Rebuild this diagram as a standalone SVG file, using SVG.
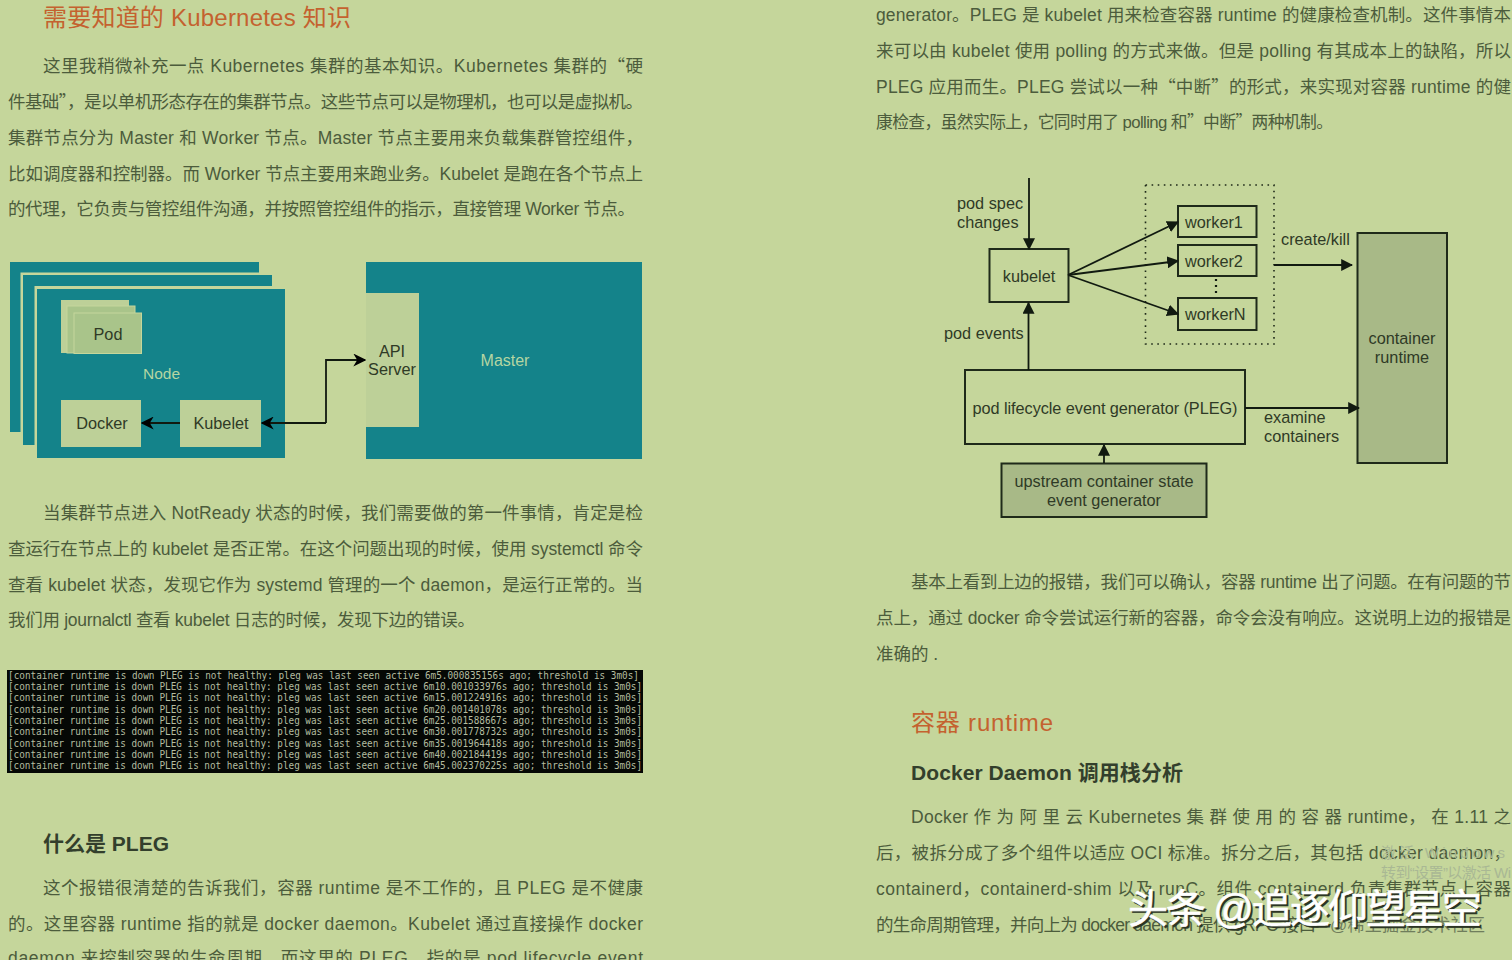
<svg xmlns="http://www.w3.org/2000/svg" width="1512" height="960" viewBox="0 0 1512 960">
<style>
text{font-family:"Liberation Sans","Noto Sans CJK SC",sans-serif}
.q{font-family:"Noto Sans CJK SC",sans-serif}
.b{font-size:17.500px;fill:#4c5c3c}
.h{font-size:24px;fill:#c4622f}
.s{font-size:21px;fill:#333f2c;font-weight:700}
.t{font-family:"DejaVu Sans Mono",monospace;font-size:10px;fill:#b4bca0}
.d{font-size:16.300px;fill:#2f3a26;text-anchor:middle}
.dl{font-size:16.300px;fill:#2f3a26}
.teal{fill:#14838a}
.lt{fill:#bdd098}
.box{fill:#c5d69b;stroke:#1f2a1a;stroke-width:2}
.dk{fill:#a8b987;stroke:#1f2a1a;stroke-width:2}
.cn{fill:none;stroke:#111a10;stroke-width:1.800}
.wm{font-size:40px;fill:#fff;stroke:#fff;stroke-width:.6}
.wb{font-size:40px;fill:#2c3524;stroke:#2c3524;stroke-width:.4}
.f{fill:#a9b894;font-size:15px}
</style>
<defs>
<marker id="a" viewBox="0 0 10 10" refX="9" refY="5" markerUnits="userSpaceOnUse" markerWidth="12" markerHeight="12" orient="auto"><path d="M0 0L10 5L0 10z" fill="#111a10"/></marker>
<marker id="k" viewBox="0 0 10 10" refX="9" refY="5" markerUnits="userSpaceOnUse" markerWidth="13" markerHeight="13" orient="auto"><path d="M0 0L10 5L0 10L3 5z" fill="#000"/></marker>
</defs>
<rect width="1512" height="960" fill="#c5d69b"/>

<text class="h" x="43" y="26" textLength="308">需要知道的 Kubernetes 知识</text>
<text class="b" x="43" y="72.300" textLength="600">这里我稍微补充一点 Kubernetes 集群的基本知识。Kubernetes 集群的<tspan class="q">“</tspan>硬</text>
<text class="b" x="8" y="108.300" textLength="635">件基础<tspan class="q">”</tspan>，是以单机形态存在的集群节点。这些节点可以是物理机，也可以是虚拟机。</text>
<text class="b" x="8" y="144.300" textLength="635">集群节点分为 Master 和 Worker 节点。Master 节点主要用来负载集群管控组件，</text>
<text class="b" x="8" y="180.300" textLength="635">比如调度器和控制器。而 Worker 节点主要用来跑业务。Kubelet 是跑在各个节点上</text>
<text class="b" x="8" y="215.300" textLength="627">的代理，它负责与管控组件沟通，并按照管控组件的指示，直接管理 Worker 节点。</text>
<text class="b" x="43" y="519.300" textLength="600">当集群节点进入 NotReady 状态的时候，我们需要做的第一件事情，肯定是检</text>
<text class="b" x="8" y="555.300" textLength="635">查运行在节点上的 kubelet 是否正常。在这个问题出现的时候，使用 systemctl 命令</text>
<text class="b" x="8" y="591.300" textLength="635">查看 kubelet 状态，发现它作为 systemd 管理的一个 daemon，是运行正常的。当</text>
<text class="b" x="8" y="626.300" textLength="467">我们用 journalctl 查看 kubelet 日志的时候，发现下边的错误。</text>
<text class="b" x="43" y="894.300" textLength="600">这个报错很清楚的告诉我们，容器 runtime 是不工作的，且 PLEG 是不健康</text>
<text class="b" x="8" y="930.300" textLength="635">的。这里容器 runtime 指的就是 docker daemon。Kubelet 通过直接操作 docker</text>
<text class="b" x="8" y="963.500" textLength="635">daemon 来控制容器的生命周期。而这里的 PLEG，指的是 pod lifecycle event</text>

<g id="node-stack">
<rect class="teal" x="10" y="262" width="249" height="170"/>
<rect x="20.500" y="272.500" width="255" height="176" fill="#c5d69b"/>
<rect class="teal" x="23" y="275" width="249" height="170"/>
<rect x="34.500" y="286" width="255" height="176" fill="#c5d69b"/>
<rect class="teal" x="37" y="289" width="248" height="169"/>
<text x="161.500" y="379" text-anchor="middle" style="font-size:15.500px;fill:#b5d6a2">Node</text>
</g>
<g id="pod">
<rect x="61" y="300" width="68" height="53" fill="#bdd098"/>
<rect x="67" y="306" width="68" height="47" fill="#a9c48a" stroke="#c5d69b" stroke-width="1"/>
<rect x="74" y="313" width="67.500" height="40.500" fill="#a9c48a" stroke="#c5d69b" stroke-width="1"/>
<text class="d" x="108" y="340">Pod</text>
</g>
<g id="docker"><rect class="lt" x="61" y="400" width="80" height="47"/><text class="d" x="102" y="429">Docker</text></g>
<g id="kubelet"><rect class="lt" x="180" y="400" width="81" height="47"/><text class="d" x="221" y="429">Kubelet</text></g>
<g id="master">
<rect class="teal" x="366" y="262" width="276" height="197"/>
<text x="505" y="366" text-anchor="middle" style="font-size:16px;fill:#b5d6a2">Master</text>
</g>
<g id="api-server">
<rect class="lt" x="366" y="293" width="53" height="134"/>
<text class="d" x="392" y="357">API</text><text class="d" x="392" y="375">Server</text>
</g>

<g id="terminal">
<rect x="7" y="670" width="636" height="103" fill="#050805"/>
<text class="t" x="8" y="679" textLength="631" lengthAdjust="spacingAndGlyphs">[container runtime is down PLEG is not healthy: pleg was last seen active 6m5.000835156s ago; threshold is 3m0s]</text>
<text class="t" x="8" y="690" textLength="634" lengthAdjust="spacingAndGlyphs">[container runtime is down PLEG is not healthy: pleg was last seen active 6m10.001033976s ago; threshold is 3m0s]</text>
<text class="t" x="8" y="701" textLength="634" lengthAdjust="spacingAndGlyphs">[container runtime is down PLEG is not healthy: pleg was last seen active 6m15.001224916s ago; threshold is 3m0s]</text>
<text class="t" x="8" y="713" textLength="634" lengthAdjust="spacingAndGlyphs">[container runtime is down PLEG is not healthy: pleg was last seen active 6m20.001401078s ago; threshold is 3m0s]</text>
<text class="t" x="8" y="724" textLength="634" lengthAdjust="spacingAndGlyphs">[container runtime is down PLEG is not healthy: pleg was last seen active 6m25.001588667s ago; threshold is 3m0s]</text>
<text class="t" x="8" y="735" textLength="634" lengthAdjust="spacingAndGlyphs">[container runtime is down PLEG is not healthy: pleg was last seen active 6m30.001778732s ago; threshold is 3m0s]</text>
<text class="t" x="8" y="747" textLength="634" lengthAdjust="spacingAndGlyphs">[container runtime is down PLEG is not healthy: pleg was last seen active 6m35.001964418s ago; threshold is 3m0s]</text>
<text class="t" x="8" y="758" textLength="634" lengthAdjust="spacingAndGlyphs">[container runtime is down PLEG is not healthy: pleg was last seen active 6m40.002184419s ago; threshold is 3m0s]</text>
<text class="t" x="8" y="769" textLength="634" lengthAdjust="spacingAndGlyphs">[container runtime is down PLEG is not healthy: pleg was last seen active 6m45.002370225s ago; threshold is 3m0s]</text>
</g>
<text class="s" x="43" y="850.500" textLength="126">什么是 PLEG</text>

<text class="b" x="876" y="21.300" textLength="635">generator。PLEG 是 kubelet 用来检查容器 runtime 的健康检查机制。这件事情本</text>
<text class="b" x="876" y="57.300" textLength="635">来可以由 kubelet 使用 polling 的方式来做。但是 polling 有其成本上的缺陷，所以</text>
<text class="b" x="876" y="93.300" textLength="635">PLEG 应用而生。PLEG 尝试以一种<tspan class="q">“</tspan>中断<tspan class="q">”</tspan>的形式，来实现对容器 runtime 的健</text>
<text class="b" x="876" y="128.300" textLength="457" style="font-size:16.800px">康检查，虽然实际上，它同时用了 polling 和<tspan class="q">”</tspan>中断<tspan class="q">”</tspan>两种机制。</text>
<text class="b" x="911" y="588.300" textLength="600">基本上看到上边的报错，我们可以确认，容器 runtime 出了问题。在有问题的节</text>
<text class="b" x="876" y="624.300" textLength="635">点上，通过 docker 命令尝试运行新的容器，命令会没有响应。这说明上边的报错是</text>
<text class="b" x="876" y="660.300" textLength="62">准确的 .</text>
<text class="h" x="911" y="731" textLength="142">容器 runtime</text>
<text class="s" x="911" y="779.500" textLength="272">Docker Daemon 调用栈分析</text>
<text class="b" x="911" y="823.300" textLength="600">Docker 作 为 阿 里 云 Kubernetes 集 群 使 用 的 容 器 runtime， 在 1.11 之</text>
<text class="b" x="876" y="859.300" textLength="635">后，被拆分成了多个组件以适应 OCI 标准。拆分之后，其包括 docker daemon，</text>
<text class="b" x="876" y="895.300" textLength="635">containerd，containerd-shim 以及 runC。组件 containerd 负责集群节点上容器</text>
<text class="b" x="876" y="931.300" textLength="440">的生命周期管理，并向上为 docker daemon 提供 gRPC 接口</text>

<g id="n-kubelet"><rect class="box" x="989.500" y="249" width="79" height="53"/><text class="d" x="1029" y="282">kubelet</text></g>
<g id="n-workers"><rect x="1145.500" y="185" width="128.500" height="159" fill="none" stroke="#1f2a1a" stroke-width="1.600" stroke-dasharray="1.600 4.500"/></g>
<g id="n-worker1"><rect class="box" x="1178" y="206" width="78.500" height="31"/><text class="dl" x="1185" y="227.500">worker1</text></g>
<g id="n-worker2"><rect class="box" x="1178" y="245" width="78.500" height="31"/><text class="dl" x="1185" y="266.500">worker2</text></g>
<g id="n-workerN"><rect class="box" x="1178" y="298" width="78.500" height="32"/><text class="dl" x="1185" y="320">workerN</text></g>
<g id="n-pleg"><rect class="box" x="965" y="370" width="280" height="74"/><text class="d" x="1105" y="413.500" textLength="265">pod lifecycle event generator (PLEG)</text></g>
<g id="n-upstream"><rect class="dk" x="1001.500" y="463.500" width="205" height="53.500"/><text class="d" x="1104" y="487">upstream container state</text><text class="d" x="1104" y="506">event generator</text></g>
<g id="n-runtime"><rect class="dk" x="1357.500" y="233" width="89.500" height="230"/><text class="d" x="1402" y="344">container</text><text class="d" x="1402" y="363">runtime</text></g>

<g id="connectors">
<path class="cn" marker-end="url(#k)" d="M326 423V360H365"/>
<path class="cn" marker-end="url(#k)" d="M326 423H262"/>
<path class="cn" marker-end="url(#k)" d="M180 423H142"/>
<path class="cn" marker-end="url(#a)" d="M1029 178V249"/>
<path class="cn" marker-end="url(#a)" d="M1028.500 370V303"/>
<path class="cn" marker-end="url(#a)" d="M1068 275L1178 222"/>
<path class="cn" marker-end="url(#a)" d="M1068 275L1178 261"/>
<path class="cn" marker-end="url(#a)" d="M1068 275L1178 314"/>
<path class="cn" marker-end="url(#a)" d="M1274 265H1352"/>
<path class="cn" marker-end="url(#a)" d="M1245 408H1359"/>
<path class="cn" marker-end="url(#a)" d="M1104 463V445"/>
<path d="M1216 279V295" fill="none" stroke="#111a10" stroke-width="2.200" stroke-dasharray="2 4"/>
</g>
<g class="lbls">
<text class="dl" x="957" y="209">pod spec</text><text class="dl" x="957" y="228">changes</text>
<text class="dl" x="944" y="339">pod events</text>
<text class="dl" x="1281" y="245">create/kill</text>
<text class="dl" x="1264" y="423">examine</text><text class="dl" x="1264" y="442">containers</text>
</g>

<g id="watermark">
<text class="f" x="1381" y="858" textLength="124">激活 Windows</text>
<text class="f" x="1381" y="878" textLength="130">转到“设置”以激活 Wi</text>
<text x="1330" y="931" style="font-size:17px;fill:#6f7d5c" textLength="155">@稀土掘金技术社区</text>
<text class="wb" x="1130" y="925" textLength="354">头条 @追逐仰望星空</text>
<text class="wm" x="1128" y="923" textLength="354">头条 @追逐仰望星空</text>
</g>
</svg>
